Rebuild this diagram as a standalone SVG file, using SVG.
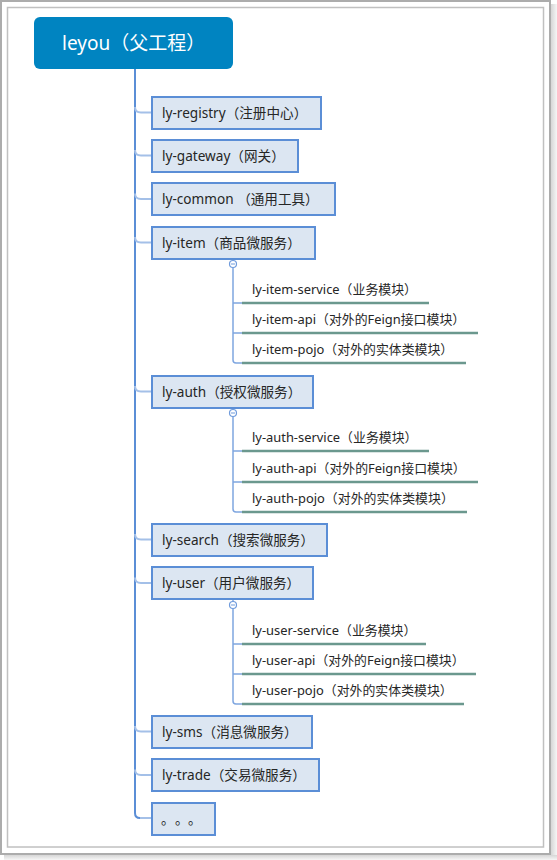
<svg xmlns="http://www.w3.org/2000/svg" width="557" height="860" viewBox="0 0 557 860">
<defs>
<linearGradient id="shR" x1="0" y1="0" x2="1" y2="0"><stop offset="0" stop-color="#d6d6d6"/><stop offset="1" stop-color="#f6f6f6"/></linearGradient>
<linearGradient id="shB" x1="0" y1="0" x2="0" y2="1"><stop offset="0" stop-color="#d6d6d6"/><stop offset="1" stop-color="#f6f6f6"/></linearGradient>
<style>
.box{fill:#dce6f2;stroke:#5b8ed6;stroke-width:2}
.t{font-family:"Noto Sans","Noto Sans CJK SC",sans-serif;font-size:13.6px;fill:#262626}
.s{font-family:"Noto Sans","Noto Sans CJK SC",sans-serif;font-size:12.9px;fill:#262626}
.ul{stroke:#6b988e;stroke-width:2.5;fill:none}
.trunk{stroke:#5b8ed6;stroke-width:2;fill:none}
.br{stroke:#a4c0e8;stroke-width:2;fill:none}
.sv{stroke:#7fa6e0;stroke-width:1.5;fill:none}
.col{fill:#fff;stroke:#6f9bdc;stroke-width:1.2}
</style>
</defs>
<rect x="0" y="0" width="557" height="860" fill="#fff"/>
<rect x="551" y="4" width="6" height="856" fill="url(#shR)"/>
<rect x="4" y="855" width="553" height="5" fill="url(#shB)"/>
<rect x="1" y="1" width="549" height="853" fill="#fff" stroke="#acacac" stroke-width="2"/>
<rect x="7.5" y="7.5" width="536" height="839.5" fill="#fff" stroke="#c0c0c0" stroke-width="1.5"/>

<g id="connectors">
<path class="trunk" d="M135 69 V813 Q135 818 140 818"/>
<path class="br" d="M135 107 Q135 112.5 141 112.5 H152"/>
<path class="br" d="M135 150 Q135 155.5 141 155.5 H152"/>
<path class="br" d="M135 193.5 Q135 199 141 199 H152"/>
<path class="br" d="M135 237 Q135 242.5 141 242.5 H152"/>
<path class="br" d="M135 386 Q135 391.5 141 391.5 H152"/>
<path class="br" d="M135 534 Q135 539.5 141 539.5 H152"/>
<path class="br" d="M135 577.5 Q135 583 141 583 H152"/>
<path class="br" d="M135 726 Q135 731.5 141 731.5 H152"/>
<path class="br" d="M135 769.5 Q135 775 141 775 H152"/>
<path class="br" d="M140 818 H152"/>
<path class="sv" d="M233 259 V264"/>
<path class="sv" d="M233 267.5 V360 Q233 363 236 363 H243 M233 303 H243 M233 333 H243"/>
<path class="sv" d="M233 408 V413"/>
<path class="sv" d="M233 416.5 V509 Q233 512 236 512 H243 M233 451 H243 M233 482 H243"/>
<path class="sv" d="M233 600 V605"/>
<path class="sv" d="M233 608.5 V701 Q233 704 236 704 H243 M233 644 H243 M233 674 H243"/>
</g>

<g id="root">
<rect x="34" y="17" width="199" height="52" rx="6" fill="#0084c1"/>
<text x="62" y="50" font-family="&quot;Noto Sans&quot;,&quot;Noto Sans CJK SC&quot;,sans-serif" font-size="19" fill="#fff">leyou（父工程）</text>
</g>

<g id="ly-registry"><rect class="box" x="152" y="97" width="169" height="32"/><text class="t" x="162" y="117.5">ly-registry（注册中心）</text></g>
<g id="ly-gateway"><rect class="box" x="152" y="140" width="146" height="32"/><text class="t" x="162" y="160.5">ly-gateway（网关）</text></g>
<g id="ly-common"><rect class="box" x="152" y="183" width="183" height="32"/><text class="t" x="162" y="204">ly-common （通用工具）</text></g>
<g id="ly-item"><rect class="box" x="152" y="227" width="163" height="32"/><text class="t" x="162" y="247.5">ly-item（商品微服务）</text>
<circle class="col" cx="233" cy="264" r="3.5"/><path d="M231 264 H235" stroke="#6f9bdc" stroke-width="1"/></g>
<g id="ly-item-service"><text class="s" x="252" y="294">ly-item-service（业务模块）</text><path class="ul" d="M242 303 H429"/></g>
<g id="ly-item-api"><text class="s" x="252" y="324">ly-item-api（对外的Feign接口模块）</text><path class="ul" d="M242 333 H478"/></g>
<g id="ly-item-pojo"><text class="s" x="252" y="354">ly-item-pojo（对外的实体类模块）</text><path class="ul" d="M242 363 H466"/></g>

<g id="ly-auth"><rect class="box" x="152" y="376" width="161" height="32"/><text class="t" x="162" y="396.5">ly-auth（授权微服务）</text>
<circle class="col" cx="233" cy="413" r="3.5"/><path d="M231 413 H235" stroke="#6f9bdc" stroke-width="1"/></g>
<g id="ly-auth-service"><text class="s" x="252" y="442">ly-auth-service（业务模块）</text><path class="ul" d="M242 451 H429"/></g>
<g id="ly-auth-api"><text class="s" x="252" y="473">ly-auth-api（对外的Feign接口模块）</text><path class="ul" d="M242 482 H478"/></g>
<g id="ly-auth-pojo"><text class="s" x="252" y="503">ly-auth-pojo（对外的实体类模块）</text><path class="ul" d="M242 512 H467"/></g>

<g id="ly-search"><rect class="box" x="152" y="524" width="175" height="32"/><text class="t" x="162" y="544.5">ly-search（搜索微服务）</text></g>

<g id="ly-user"><rect class="box" x="152" y="567" width="161" height="32"/><text class="t" x="162" y="588">ly-user（用户微服务）</text>
<circle class="col" cx="233" cy="605" r="3.5"/><path d="M231 605 H235" stroke="#6f9bdc" stroke-width="1"/></g>
<g id="ly-user-service"><text class="s" x="252" y="635">ly-user-service（业务模块）</text><path class="ul" d="M242 644 H426"/></g>
<g id="ly-user-api"><text class="s" x="252" y="665">ly-user-api（对外的Feign接口模块）</text><path class="ul" d="M242 674 H476"/></g>
<g id="ly-user-pojo"><text class="s" x="252" y="695">ly-user-pojo（对外的实体类模块）</text><path class="ul" d="M242 704 H464"/></g>

<g id="ly-sms"><rect class="box" x="152" y="716" width="160" height="32"/><text class="t" x="162" y="736.5">ly-sms（消息微服务）</text></g>
<g id="ly-trade"><rect class="box" x="152" y="759" width="167" height="32"/><text class="t" x="162" y="780">ly-trade（交易微服务）</text></g>
<g id="more"><rect class="box" x="152" y="803" width="63" height="32"/><text x="161 175 188" y="823.5" font-family="&quot;Noto Sans CJK SC&quot;,sans-serif" font-size="13.5" fill="#262626">。。。</text></g>
</svg>
